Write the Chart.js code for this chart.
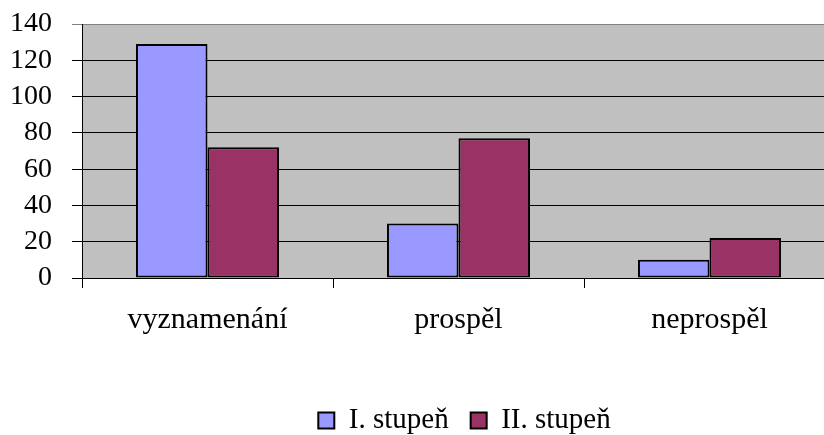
<!DOCTYPE html>
<html>
<head>
<meta charset="utf-8">
<script src="https://cdn.jsdelivr.net/npm/chart.js@4"></script>
<style>
  html, body { margin: 0; padding: 0; background: #fff; overflow: hidden; }
  #wrap { width: 928px; height: 435px; }
</style>
</head>
<body>
<div id="wrap"><canvas id="mainChart"></canvas></div>
<script>
const categories = ['vyznamenání', 'prospěl', 'neprospěl'];
const stupen1 = [129, 30, 10];
const stupen2 = [72, 77, 22];
const yMax = 140;
const yStep = 20;

document.addEventListener('DOMContentLoaded', function () {
  const ctx = document.getElementById('mainChart');
  Chart.defaults.color = '#000';
  Chart.defaults.font.family = '"Liberation Serif", "DejaVu Serif", serif';
  Chart.defaults.font.size = 28;

  const plotBg = {
    id: 'plotBg',
    afterLayout(chart) {
      // legend in the original is centred on the full (wider) chart
      if (chart.legend) {
        chart.legend.left += 47;
        chart.legend.right += 47;
      }
    },
    beforeDraw(chart) {
      const a = chart.chartArea;
      const c = chart.ctx;
      c.save();
      c.fillStyle = '#C0C0C0';
      c.fillRect(a.left, a.top, a.right - a.left, a.bottom - a.top);
      c.restore();
    },
  };

  new Chart(ctx, {
    type: 'bar',
    data: {
      labels: categories,
      datasets: [
        {
          label: 'I. stupeň',
          data: stupen1,
          backgroundColor: '#9999FF',
          borderColor: '#000',
          borderWidth: 2,
          borderSkipped: false,
        },
        {
          label: 'II. stupeň',
          data: stupen2,
          backgroundColor: '#993366',
          borderColor: '#000',
          borderWidth: 2,
          borderSkipped: false,
        },
      ],
    },
    options: {
      responsive: true,
      maintainAspectRatio: false,
      animation: false,
      datasets: { bar: { categoryPercentage: 0.57, barPercentage: 1.0 } },
      layout: { padding: { top: 0, right: 93, left: 0, bottom: -10 } },
      plugins: {
        tooltip: { enabled: false },
        legend: {
          position: 'bottom',
          labels: { boxWidth: 16, boxHeight: 16, padding: 22, font: { size: 29 } },
        },
      },
      scales: {
        x: {
          afterFit: (s) => { s.height = 106; },
          grid: {
            offset: true,
            drawOnChartArea: false,
            color: '#000',
            tickLength: 10,
          },
          border: { color: '#000', width: 1 },
          ticks: { padding: 14, font: { size: 30 } },
        },
        y: {
          min: 0,
          max: yMax,
          afterFit: (s) => { s.width = 82; s.paddingTop = 24; s.paddingBottom = 0; },
          grid: {
            color: (c) => (c.tick && c.tick.value === yMax ? '#808080' : '#000'),
            tickLength: 10,
          },
          border: { color: '#000', width: 1 },
          ticks: { stepSize: yStep, padding: 20, autoSkip: false },
        },
      },
    },
    plugins: [plotBg],
  });
});
</script>
</body>
</html>
